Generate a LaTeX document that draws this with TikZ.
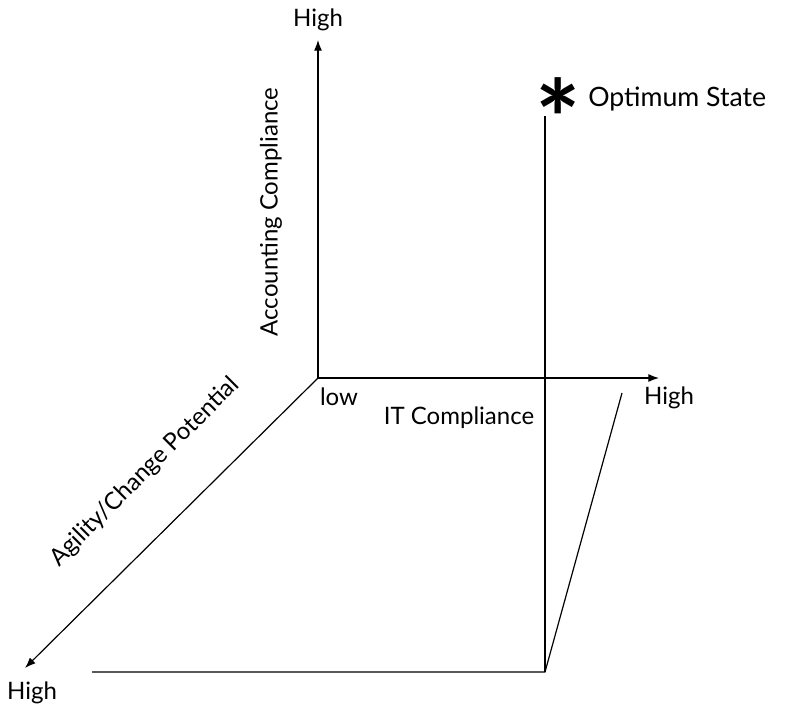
\documentclass[tikz,border=0pt]{standalone}
\usepackage{fontspec}
\setmainfont{Lato}
\usetikzlibrary{arrows.meta}
\begin{document}
\begin{tikzpicture}[x=0.75pt,y=-0.75pt,
  axis/.style={line width=0.9pt,-{Latex[length=8pt,width=6pt]}},
  edge/.style={line width=0.9pt},
  lbl/.style={font=\fontsize{18}{22}\selectfont,inner sep=0pt},
  biglbl/.style={font=\fontsize{20}{24}\selectfont,inner sep=0pt}]
\useasboundingbox (0,0) rectangle (789,707);
% axes
\coordinate (O) at (318,378);
\coordinate (ytip) at (318,40);
\coordinate (xtip) at (659,378);
\coordinate (ztip) at (25,668);
\draw[axis] (O) -- (ytip);
\draw[axis] (O) -- (xtip);
\draw[axis] (O) -- (ztip);
% projection of the optimum onto the floor plane
\coordinate (top) at (545,116);
\coordinate (corner) at (545,672);
\coordinate (left) at (92,672);
\coordinate (right) at (622,393);
\draw[edge] (top) -- (corner);
\draw[edge] (left) -- (corner) -- (right);
% labels
\node[lbl] (yhigh) at (318,20) {High};
\node[lbl] (xhigh) at (669,398) {High};
\node[lbl] (zhigh) at (32,693) {High};
\node[lbl] (low) at (339,397) {low};
\node[lbl] (itc) at (459,418) {IT Compliance};
\node[lbl,rotate=90] (acc) at (271,212) {Accounting Compliance};
\node[lbl,rotate=45] (agil) at (145,472) {Agility/Change Potential};
\node[inner sep=0pt,font=\fontsize{80}{80}\selectfont\bfseries] (star) at (558,118) {*};
\node[biglbl,anchor=west] (opt) at (588,99) {Optimum State};
\end{tikzpicture}
\end{document}
